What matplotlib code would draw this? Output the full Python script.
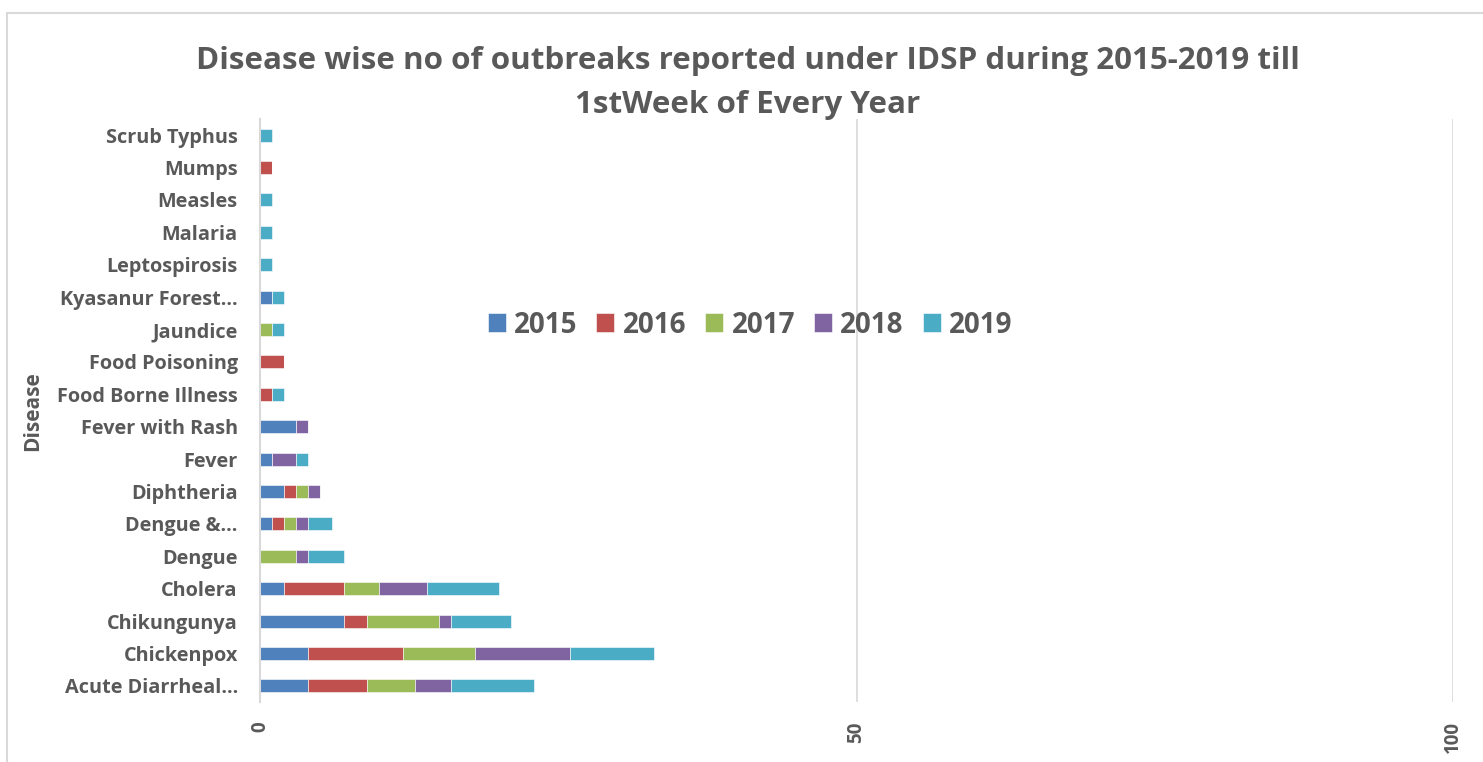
import matplotlib
matplotlib.use("Agg")
import matplotlib.pyplot as plt
from matplotlib.patches import Rectangle
import numpy as np

categories = ["Acute Diarrheal…", "Chickenpox", "Chikungunya", "Cholera", "Dengue",
              "Dengue &…", "Diphtheria", "Fever", "Fever with Rash", "Food Borne Illness",
              "Food Poisoning", "Jaundice", "Kyasanur Forest…", "Leptospirosis", "Malaria",
              "Measles", "Mumps", "Scrub Typhus"]
years = ["2015", "2016", "2017", "2018", "2019"]
v2015 = [4, 4, 7, 2, 0, 1, 2, 1, 3, 0, 0, 0, 1, 0, 0, 0, 0, 0]
v2016 = [5, 8, 2, 5, 0, 1, 1, 0, 0, 1, 2, 0, 0, 0, 0, 0, 1, 0]
v2017 = [4, 6, 6, 3, 3, 1, 1, 0, 0, 0, 0, 1, 0, 0, 0, 0, 0, 0]
v2018 = [3, 8, 1, 4, 1, 1, 1, 2, 1, 0, 0, 0, 0, 0, 0, 0, 0, 0]
v2019 = [7, 7, 5, 6, 3, 2, 0, 1, 0, 1, 0, 1, 1, 1, 1, 1, 0, 1]
x_ticks = [0, 50, 100]
title = "Disease wise no of outbreaks reported under IDSP during 2015-2019 till\n1stWeek of Every Year"

colors = ["#4F81BD", "#C0504D", "#9BBB59", "#8064A2", "#4BACC6"]
series = [v2015, v2016, v2017, v2018, v2019]
txt = "#595959"
plt.rcParams['font.family'] = ['Open Sans', 'DejaVu Sans']
plt.rcParams['font.weight'] = 'bold'

fig = plt.figure(figsize=(14.83, 7.62), dpi=100)
fig.patches.append(Rectangle((7/1483, -0.1), 1.2, 1 - 13/762 + 0.1, transform=fig.transFigure,
                             fill=False, edgecolor="#D9D9D9", linewidth=1.5))
ax = fig.add_axes([260/1483, 1 - 702/762, (1453 - 260)/1483, (702 - 119)/762])

y = np.arange(len(categories))
left = np.zeros(len(categories))
for yr, vals, c in zip(years, series, colors):
    vals = np.array(vals, dtype=float)
    ax.barh(y, vals, left=left, height=0.4, color=c, label=yr, edgecolor="white", linewidth=0.4)
    left += vals

ax.set_xlim(0, 100)
ax.set_ylim(-0.5, len(categories) - 0.5)
ax.set_xticks(x_ticks)
ax.set_xticklabels([str(t) for t in x_ticks], rotation=90, fontsize=13.5, fontweight='bold', color=txt)
ax.set_yticks(y)
ax.set_yticklabels(categories, fontsize=14.3, fontweight='bold', color=txt)
ax.tick_params(axis='both', length=0)
ax.tick_params(axis='x', pad=14)
ax.tick_params(axis='y', pad=16)
ax.xaxis.grid(True, color="#D9D9D9", linewidth=1.2)
ax.set_axisbelow(True)
for s in ["top", "right", "bottom"]:
    ax.spines[s].set_visible(False)
ax.spines["left"].set_color("#D9D9D9")
ax.spines["left"].set_linewidth(1.5)

fig.text(33/1483, 1 - 411/762, "Disease", rotation=90, ha='center', va='center',
         fontsize=15, fontweight='bold', color=txt)
fig.text(748/1483, 1 - 83/762, title, ha='center', va='center', fontsize=22.6,
         fontweight='bold', color=txt, linespacing=1.6)

leg = ax.legend(loc='center', bbox_to_anchor=(750/1483, 1 - 325/762), bbox_transform=fig.transFigure,
                ncol=5, frameon=False, fontsize=20, handlelength=0.65, handleheight=0.65,
                columnspacing=0.68, handletextpad=0.3, borderpad=0)
for t in leg.get_texts():
    t.set_color(txt)
    t.set_fontweight('bold')

fig.savefig("out.png", dpi=100)
